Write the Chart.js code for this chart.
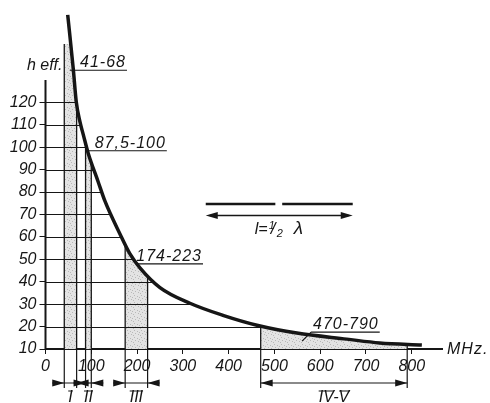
<!DOCTYPE html>
<html>
<head>
<meta charset="utf-8">
<script src="https://cdn.jsdelivr.net/npm/chart.js@4"></script>
<style>
  html, body { margin: 0; padding: 0; background: #fff; }
</style>
</head>
<body>
<canvas id="heff" width="490" height="403"></canvas>
<script>
// effective height of a half-wave dipole over frequency
const curveMHz = [48.5, 60.7, 67.2, 75.3, 82.5, 93.4, 114.6, 129.9, 162.6, 184.5, 206.3, 250, 315.5, 387.6, 461.8, 549, 658, 730, 822];
const curveHeff = [159, 134.8, 120.2, 111.3, 105.6, 97.2, 84.8, 75.9, 61.3, 52.4, 46.2, 37.4, 30.4, 25.0, 20.6, 17.1, 14.4, 12.7, 11.8];

// broadcast bands
const bandNames = ['I', 'II', 'III', 'IV-V'];
const bandFrom = [41, 87.5, 174, 470];
const bandTo = [68, 100, 223, 790];
const bandText = ['41-68', '87,5-100', '174-223', '470-790'];

const xTicks = [0, 100, 200, 300, 400, 500, 600, 700, 800];
const yTicks = [10, 20, 30, 40, 50, 60, 70, 80, 90, 100, 110, 120];

const ink = '#161616';
const face = 'Liberation Sans';
const yAxisTop = 130;   // where the drawn y axis stops
const bandCap = 146;    // top of the band I hatching

// where each band label's underline sits: start MHz, end MHz, h
const labelFrom = [53, 93, 197, 580];
const labelTo = [178, 265, 344, 730];
const labelH = [134.3, 98.4, 48, 17.5];

function stipple(ctx) {
  const c = document.createElement('canvas');
  c.width = 7; c.height = 7;
  const g = c.getContext('2d');
  g.fillStyle = '#e3e3e3';
  g.fillRect(0, 0, 7, 7);
  g.fillStyle = '#b8b8b8';
  [[1, 1], [4, 2], [2, 4], [5, 5], [0, 6], [6, 3]].forEach(([x, y]) => g.fillRect(x, y, 1, 1));
  return ctx.createPattern(c, 'repeat');
}

// region left of / below the curve
function underCurve(chart) {
  const meta = chart.getDatasetMeta(0);
  const line = meta.dataset;
  const pts = meta.data;
  const a = chart.chartArea;
  const ctx = chart.ctx;
  line.updateControlPoints(a, 'x');
  ctx.beginPath();
  line.path(ctx);
  ctx.lineTo(pts[pts.length - 1].x, a.bottom);
  ctx.lineTo(a.left, a.bottom);
  ctx.lineTo(a.left, a.top - 20);
  ctx.lineTo(pts[0].x, a.top - 20);
  ctx.closePath();
}

function arrowHead(ctx, tipX, y, dir) {
  ctx.beginPath();
  ctx.moveTo(tipX, y);
  ctx.lineTo(tipX - dir * 12, y - 3.5);
  ctx.lineTo(tipX - dir * 12, y + 3.5);
  ctx.closePath();
  ctx.fill();
}

function italic(size) {
  return 'italic ' + size + 'px "' + face + '"';
}

const drawing = {
  id: 'drawing',
  beforeDatasetsDraw(chart) {
    const { ctx, chartArea: a, scales: { x, y } } = chart;
    ctx.save();
    underCurve(chart);
    ctx.clip();

    // shaded bands
    const capY = y.getPixelForValue(bandCap);
    ctx.fillStyle = stipple(ctx);
    bandFrom.forEach((f, i) => {
      const x0 = x.getPixelForValue(f);
      const x1 = x.getPixelForValue(bandTo[i]);
      ctx.fillRect(x0, capY, x1 - x0, a.bottom - capY);
    });

    // grid lines only run up to the curve
    ctx.strokeStyle = ink;
    ctx.lineWidth = 1;
    yTicks.slice(1).forEach(v => {
      const py = Math.round(y.getPixelForValue(v)) + 0.5;
      ctx.beginPath();
      ctx.moveTo(a.left, py);
      ctx.lineTo(a.right, py);
      ctx.stroke();
    });
    ctx.lineWidth = 1.3;
    bandFrom.concat(bandTo).forEach(f => {
      const px = x.getPixelForValue(f);
      ctx.beginPath();
      ctx.moveTo(px, a.bottom);
      ctx.lineTo(px, capY);
      ctx.stroke();
    });
    ctx.restore();
  },
  afterDatasetsDraw(chart) {
    const { ctx, chartArea: a, scales: { x, y } } = chart;
    ctx.save();
    ctx.strokeStyle = ink;
    ctx.fillStyle = ink;

    // y axis
    const topY = y.getPixelForValue(yAxisTop);
    ctx.lineWidth = 2;
    ctx.beginPath();
    ctx.moveTo(a.left, a.bottom + 1);
    ctx.lineTo(a.left, topY);
    ctx.stroke();

    ctx.font = italic(16);
    ctx.textBaseline = 'alphabetic';
    ctx.textAlign = 'right';
    ctx.fillText('h eff.', a.left + 17, topY - 10);
    ctx.textAlign = 'left';
    ctx.textBaseline = 'middle';
    ctx.letterSpacing = '1px';
    ctx.fillText('MHz.', a.right + 5, a.bottom + 1);

    // band labels with underlines
    ctx.lineWidth = 1.2;
    ctx.textAlign = 'right';
    ctx.textBaseline = 'alphabetic';
    bandText.forEach((t, i) => {
      const x0 = x.getPixelForValue(labelFrom[i]);
      const x1 = x.getPixelForValue(labelTo[i]);
      const py = y.getPixelForValue(labelH[i]);
      ctx.beginPath();
      ctx.moveTo(x0, py);
      ctx.lineTo(x1, py);
      ctx.stroke();
      ctx.fillText(t, x1 - 1, py - 3);
    });
    // leader into the UHF band
    const lx = x.getPixelForValue(labelFrom[3]);
    const ly = y.getPixelForValue(labelH[3]);
    ctx.beginPath();
    ctx.moveTo(lx, ly);
    ctx.lineTo(lx - 9, ly + 9);
    ctx.stroke();
    ctx.letterSpacing = '0px';

    // dimension lines below the axis
    const dy = a.bottom + 34;
    ctx.lineWidth = 1.2;
    bandFrom.forEach((f, i) => {
      const x0 = x.getPixelForValue(f);
      const x1 = x.getPixelForValue(bandTo[i]);
      ctx.beginPath();
      ctx.moveTo(x0, a.bottom);
      ctx.lineTo(x0, dy + 5);
      ctx.moveTo(x1, a.bottom);
      ctx.lineTo(x1, dy + 5);
      ctx.stroke();
      const inside = x1 - x0 > 60;
      ctx.beginPath();
      if (inside) {
        ctx.moveTo(x0, dy);
        ctx.lineTo(x1, dy);
        ctx.stroke();
        arrowHead(ctx, x0, dy, -1);
        arrowHead(ctx, x1, dy, 1);
      } else {
        ctx.moveTo(x0 - 12, dy);
        ctx.lineTo(x1 + 12, dy);
        ctx.stroke();
        arrowHead(ctx, x0, dy, 1);
        arrowHead(ctx, x1, dy, -1);
      }

      // roman band names with bars
      const cx = (x0 + x1) / 2;
      ctx.font = italic(16);
      ctx.textAlign = 'center';
      ctx.textBaseline = 'middle';
      ctx.fillText(bandNames[i], cx, dy + 15);
      const parts = bandNames[i].split('-');
      const full = ctx.measureText(bandNames[i]).width;
      let px = cx - full / 2;
      const dash = ctx.measureText('-').width;
      parts.forEach(p => {
        const w = ctx.measureText(p).width;
        ctx.beginPath();
        ctx.moveTo(px, dy + 8);
        ctx.lineTo(px + w, dy + 8);
        ctx.moveTo(px - 2, dy + 21);
        ctx.lineTo(px + w - 2, dy + 21);
        ctx.stroke();
        px += w + dash;
      });
    });
    ctx.restore();

    // half-wave dipole sketch: two rods, then the length arrow under them
    const d0 = x.getPixelForValue(350);
    const d1 = x.getPixelForValue(671);
    const g0 = x.getPixelForValue(502);
    const g1 = x.getPixelForValue(517);
    const rodY = Math.round(y.getPixelForValue(74.6));
    const arrY = rodY + 11.5;
    ctx.save();
    ctx.strokeStyle = ink;
    ctx.fillStyle = ink;
    ctx.lineWidth = 2.4;
    ctx.beginPath();
    ctx.moveTo(d0, rodY);
    ctx.lineTo(g0, rodY);
    ctx.moveTo(g1, rodY);
    ctx.lineTo(d1, rodY);
    ctx.stroke();

    ctx.lineWidth = 1.4;
    ctx.beginPath();
    ctx.moveTo(d0 + 4, arrY);
    ctx.lineTo(d1 - 4, arrY);
    ctx.stroke();
    arrowHead(ctx, d0, arrY, -1);
    arrowHead(ctx, d1, arrY, 1);

    const tx = (g0 + g1) / 2 - 24;
    const ty = arrY + 18;
    ctx.textAlign = 'left';
    ctx.textBaseline = 'alphabetic';
    ctx.font = italic(16);
    ctx.fillText('l=', tx, ty);
    ctx.font = italic(11);
    ctx.fillText('1', tx + 14, ty - 5);
    ctx.font = italic(17);
    ctx.fillText('/', tx + 16, ty);
    ctx.font = italic(11);
    ctx.fillText('2', tx + 22, ty + 3);
    ctx.font = italic(19);
    ctx.fillText('λ', tx + 39, ty);
    ctx.restore();
  }
};

const chart = new Chart(document.getElementById('heff'), {
  type: 'scatter',
  data: {
    datasets: [{
      data: curveMHz.map((f, i) => ({ x: f, y: curveHeff[i] })),
      showLine: true,
      borderColor: ink,
      borderWidth: 3.5,
      pointRadius: 0,
      cubicInterpolationMode: 'monotone',
      fill: false
    }]
  },
  options: {
    responsive: false,
    animation: false,
    devicePixelRatio: 1,
    layout: { padding: { top: 10, right: 48, bottom: 30, left: 0 } },
    plugins: { legend: { display: false }, tooltip: { enabled: false } },
    scales: {
      x: {
        type: 'linear',
        min: 0,
        max: 866,
        afterBuildTicks: s => { s.ticks = xTicks.map(v => ({ value: v })); },
        afterFit: s => { s.height = 24; },
        grid: { drawOnChartArea: false, tickLength: 5, color: ink },
        border: { display: true, color: ink, width: 2 },
        ticks: { color: ink, padding: 3, maxRotation: 0, font: { family: face, size: 16, style: 'italic' } }
      },
      y: {
        min: 10,
        max: 160,
        afterBuildTicks: s => { s.ticks = yTicks.map(v => ({ value: v })); },
        afterFit: s => { s.width = 45.5; },
        grid: { drawOnChartArea: false, tickLength: 6, color: ink },
        border: { display: false },
        ticks: { color: ink, padding: 3, font: { family: face, size: 16, style: 'italic' } }
      }
    }
  },
  plugins: [drawing]
});
</script>
</body>
</html>
